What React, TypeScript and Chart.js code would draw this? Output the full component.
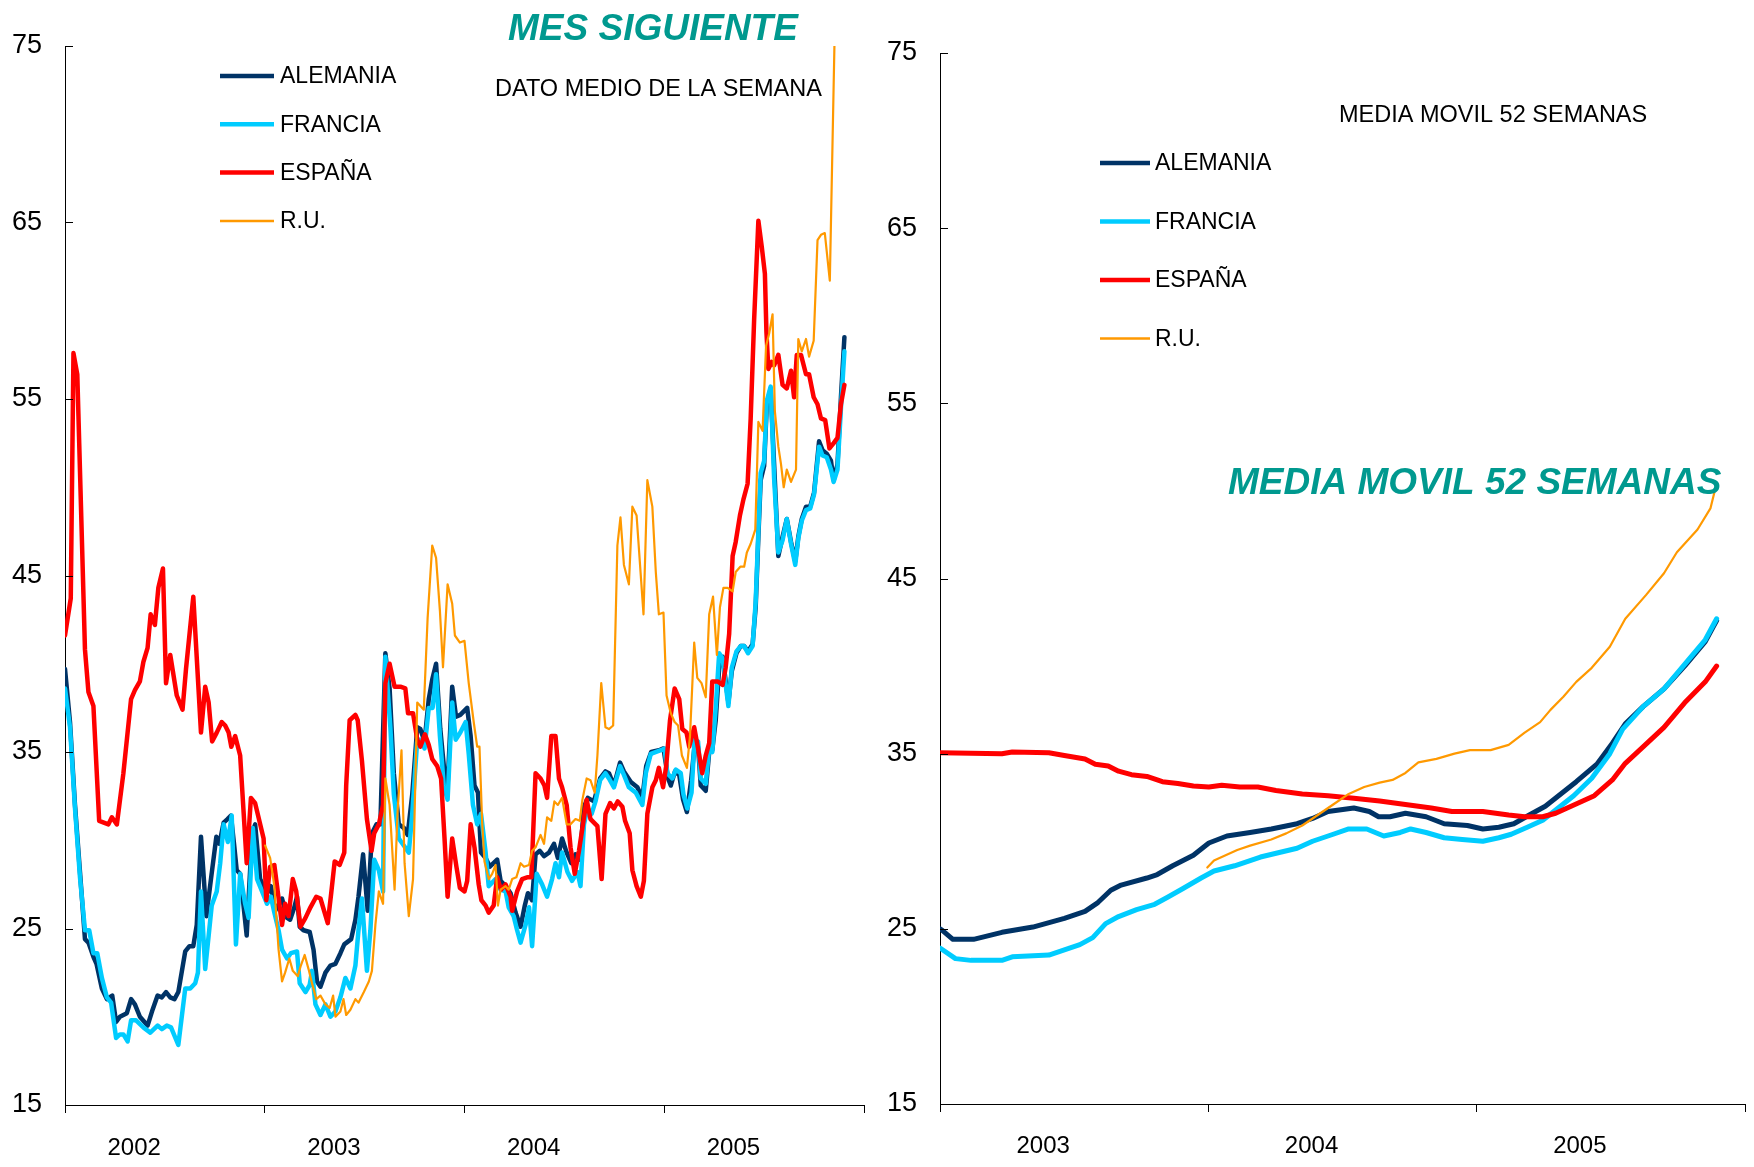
import React, { useEffect, useRef } from 'react';
import { Chart, registerables } from 'chart.js';

Chart.register(...registerables);

type Pt = [number, number];

const FONT = '"Liberation Sans", Arial, Helvetica, sans-serif';

const seriesNames = ['ALEMANIA', 'FRANCIA', 'ESPAÑA', 'R.U.'];
const seriesColors = ['#003366', '#00CCFF', '#FF0000', '#FF9900'];

const leftYears = ['2002', '2003', '2004', '2005'];
const rightYears = ['2003', '2004', '2005'];

const leftTitle = 'MES SIGUIENTE';
const leftSubtitle = 'DATO MEDIO DE LA SEMANA';
const rightTitle = 'MEDIA MOVIL 52 SEMANAS';
const rightSubtitle = 'MEDIA MOVIL 52 SEMANAS';

// Weekly values (x = weeks since start of 2002)
const weeklyAlemania: Pt[] = [
  [0,39.7],[1.3,36.7],[2.6,32.0],[3.9,28.2],[5.2,24.4],[6.1,24.2],[7.4,23.4],[8.2,23.0],[9.6,21.6],[10.9,21.0],[12.3,21.2],[13.3,19.7],[14.3,20.0],[16.1,20.2],[17.2,21.0],[18.2,20.7],[19.5,20.0],[21.5,19.5],[22.8,20.4],[24.1,21.2],[25.2,21.1],[26.3,21.4],[27.4,21.1],[28.5,21.0],[29.5,21.4],[31.3,23.7],[32.4,24.0],[33.4,24.0],[34.3,25.2],[35.4,30.2],[36.8,25.7],[38.0,27.8],[39.4,30.2],[40.2,29.8],[41.3,31.0],[42.3,31.2],[43.2,31.4],[44.0,29.8],[44.7,28.3],[45.6,28.1],[47.3,24.6],[48.7,30.4],[49.5,30.9],[50.8,27.8],[52.6,27.0],[53.6,27.4],[54.7,26.0],[56.5,26.7],[57.8,25.6],[58.6,25.5],[59.7,26.2],[60.4,26.8],[61.1,25.1],[62.1,24.9],[63.7,24.8],[64.7,23.8],[65.6,22.0],[66.5,21.7],[67.8,22.5],[69.1,22.9],[70.4,23.0],[71.7,23.6],[72.7,24.1],[74.5,24.4],[75.6,25.5],[76.4,26.8],[77.6,29.2],[78.8,26.0],[79.9,30.4],[81.1,30.9],[82.1,30.9],[83.4,40.6],[84.5,38.6],[85.6,33.8],[86.9,30.9],[88.2,30.7],[89.2,30.3],[90.4,32.6],[91.7,36.4],[92.5,36.3],[93.6,35.6],[94.7,38.0],[95.6,39.1],[96.6,40.0],[97.7,36.3],[98.8,33.8],[99.6,33.1],[100.8,38.7],[101.8,37.0],[102.9,37.1],[104.7,37.5],[105.6,35.9],[106.6,33.1],[107.5,32.7],[108.3,29.3],[109.5,29.0],[110.6,28.5],[112.5,28.9],[113.4,27.7],[114.7,27.4],[116.0,27.0],[117.3,25.9],[118.6,25.1],[119.7,26.3],[120.5,27.0],[121.6,26.6],[122.5,29.2],[123.6,29.4],[124.7,29.1],[126.0,29.3],[127.3,29.8],[128.3,29.0],[129.4,30.1],[130.6,29.3],[131.8,28.7],[132.9,29.2],[134.0,28.9],[135.1,31.9],[136.1,32.4],[137.7,32.2],[139.3,33.5],[140.7,33.9],[141.6,33.8],[142.9,33.1],[144.5,34.4],[145.5,33.9],[147.3,33.3],[149.0,33.0],[150.3,32.4],[151.3,34.2],[152.6,35.0],[154.6,35.1],[155.8,35.2],[157.0,33.5],[157.7,33.1],[158.8,33.9],[159.9,33.7],[160.9,32.3],[161.9,31.6],[163.0,33.4],[164.0,35.6],[164.8,35.3],[165.5,33.1],[166.8,32.8],[167.7,35.0],[168.5,35.1],[169.4,36.8],[170.3,39.8],[171.2,40.4],[172.0,39.0],[172.7,37.8],[173.6,39.6],[174.8,40.6],[175.9,41.0],[176.8,41.0],[177.8,40.7],[179.0,41.1],[179.8,43.2],[180.5,47.2],[181.1,50.4],[182.0,51.2],[182.7,54.7],[183.7,55.6],[184.6,51.3],[185.7,46.1],[186.8,47.2],[187.9,48.2],[189.0,46.9],[190.1,45.8],[190.9,47.2],[191.8,48.2],[192.9,48.9],[194.0,48.9],[195.0,49.7],[196.3,52.6],[197.2,52.1],[198.3,51.9],[199.4,51.5],[200.1,50.4],[201.1,51.3],[202.0,55.1],[202.9,58.5]
];

const weeklyFrancia: Pt[] = [
  [0,38.6],[1.3,36.4],[2.6,31.8],[3.9,27.9],[5.2,24.9],[6.3,24.9],[7.4,23.6],[8.4,23.6],[9.6,22.2],[10.9,21.1],[12.0,20.8],[13.3,18.8],[14.3,19.0],[15.2,19.0],[16.3,18.6],[17.2,19.8],[18.5,19.8],[20.4,19.4],[22.2,19.1],[24.1,19.5],[25.2,19.3],[26.5,19.5],[27.6,19.4],[29.5,18.4],[31.3,21.6],[32.6,21.6],[33.9,21.9],[34.6,22.5],[35.4,27.1],[36.5,22.7],[37.4,24.6],[38.2,26.3],[39.5,27.1],[40.4,28.7],[41.3,30.9],[42.4,29.9],[43.4,31.4],[44.5,24.1],[45.6,28.1],[46.9,26.4],[47.8,25.6],[48.9,30.7],[50.0,27.8],[51.3,27.1],[52.6,26.4],[53.6,26.8],[54.5,25.9],[55.6,24.9],[56.5,23.8],[57.8,23.3],[58.8,23.6],[60.4,23.7],[61.1,21.9],[62.6,21.4],[63.7,21.8],[64.3,22.6],[65.2,20.7],[66.5,20.1],[67.8,20.7],[69.1,20.0],[70.4,20.3],[71.7,21.1],[73.0,22.2],[74.3,21.6],[75.6,22.9],[76.4,24.9],[77.3,26.7],[78.6,22.6],[79.5,24.9],[80.5,28.9],[81.7,28.3],[82.8,27.1],[83.4,40.4],[84.7,36.4],[85.6,32.6],[86.9,30.1],[88.2,29.7],[89.5,29.3],[90.4,31.5],[91.7,35.7],[92.5,35.7],[93.6,35.2],[94.7,37.5],[95.7,37.5],[96.6,39.4],[97.6,35.9],[98.6,33.1],[99.6,32.3],[100.8,37.8],[101.7,35.7],[102.9,36.1],[104.3,36.7],[105.1,34.9],[106.2,32.0],[107.3,30.9],[108.3,31.5],[109.5,29.3],[110.3,27.4],[112.1,27.8],[113.4,27.2],[114.7,27.1],[115.5,26.2],[116.8,25.7],[117.7,24.9],[118.6,24.2],[119.9,25.2],[120.8,26.2],[121.6,24.0],[122.8,28.1],[124.2,27.5],[125.5,26.8],[126.8,27.8],[127.7,28.7],[128.6,27.9],[129.4,29.3],[130.8,28.2],[132.0,27.7],[133.4,28.2],[134.2,27.4],[135.1,30.9],[136.0,31.8],[137.1,31.5],[138.1,32.2],[139.3,33.4],[140.7,33.8],[141.6,33.5],[142.9,33.0],[144.5,34.2],[145.5,33.7],[146.8,33.0],[148.6,32.7],[150.3,32.0],[151.2,33.8],[152.5,34.9],[155.1,35.1],[156.1,35.2],[156.8,33.8],[158.1,33.5],[159.0,34.0],[160.3,33.8],[161.0,32.6],[162.0,31.8],[163.1,32.7],[163.9,35.7],[164.8,35.6],[165.5,33.5],[166.8,33.2],[167.7,35.2],[168.5,35.0],[169.4,37.5],[170.3,40.6],[171.2,40.3],[172.0,38.8],[172.7,37.6],[173.6,39.8],[174.8,40.7],[175.9,41.0],[176.8,41.0],[177.8,40.6],[179.0,41.0],[179.8,43.5],[180.5,47.5],[181.1,50.8],[182.0,51.5],[182.7,54.9],[183.7,55.7],[184.6,50.5],[185.7,46.3],[186.8,47.0],[187.9,48.2],[189.0,46.8],[190.1,45.6],[190.9,47.1],[191.8,48.1],[192.9,48.7],[194.0,48.8],[195.0,49.6],[196.3,52.3],[197.2,51.8],[198.3,51.7],[199.4,51.0],[200.1,50.3],[201.1,51.0],[202.0,54.5],[202.9,57.7]
];

const weeklyEspana: Pt[] = [
  [0,41.6],[1.5,43.7],[2.2,57.6],[3.2,56.4],[5.2,40.8],[6.1,38.4],[7.4,37.6],[8.9,31.1],[11.3,30.9],[12.2,31.3],[13.5,30.9],[15.2,33.8],[17.2,38.0],[18.2,38.5],[19.5,39.0],[20.4,40.1],[21.5,40.9],[22.3,42.8],[23.4,42.2],[24.3,44.3],[25.5,45.4],[26.3,38.9],[27.4,40.5],[29.1,38.2],[30.6,37.4],[31.5,39.7],[33.4,43.8],[35.4,36.1],[36.5,38.7],[37.4,37.8],[38.3,35.6],[39.5,36.1],[40.8,36.7],[41.7,36.5],[42.6,36.1],[43.3,35.3],[44.3,35.9],[45.6,34.8],[47.3,28.7],[48.4,32.4],[49.5,32.1],[51.7,30.1],[52.4,26.6],[53.4,28.5],[54.5,28.6],[56.5,25.2],[57.3,26.4],[58.2,25.7],[59.3,27.8],[60.2,27.1],[61.3,25.1],[62.6,25.6],[63.9,26.2],[65.4,26.8],[66.5,26.7],[68.4,25.3],[69.3,27.0],[70.2,28.8],[71.5,28.6],[72.7,29.3],[73.2,33.1],[74.1,36.8],[75.6,37.1],[76.2,36.8],[77.3,34.5],[78.6,31.2],[79.8,29.4],[80.5,30.4],[81.7,30.9],[82.8,32.0],[83.4,38.9],[84.5,40.0],[85.8,38.7],[87.3,38.7],[88.6,38.6],[89.3,37.2],[90.6,37.2],[91.7,35.7],[92.5,35.3],[93.7,36.0],[94.7,35.4],[95.6,34.6],[96.9,34.2],[97.9,33.5],[98.8,30.1],[99.6,26.8],[100.8,30.1],[101.9,28.5],[102.8,27.3],[104.0,27.1],[104.7,27.7],[105.6,30.9],[106.6,29.6],[107.7,27.5],[108.4,26.6],[109.5,26.3],[110.3,25.9],[111.6,26.3],[112.5,27.9],[113.5,27.2],[114.7,27.5],[116.0,26.8],[116.4,26.0],[117.7,27.1],[119.0,27.8],[120.3,27.9],[121.4,27.9],[122.5,33.8],[123.8,33.5],[124.8,33.1],[125.5,32.4],[126.6,35.9],[127.7,35.9],[128.6,33.5],[129.4,33.0],[130.6,32.0],[131.6,29.6],[132.7,28.1],[133.8,29.4],[134.7,30.7],[135.8,32.3],[136.8,31.2],[138.6,30.8],[139.7,27.8],[140.7,31.5],[141.9,32.1],[142.9,31.8],[143.9,32.2],[145.1,31.9],[145.8,31.1],[147.0,30.4],[147.7,28.3],[148.8,27.4],[149.9,26.8],[150.7,27.7],[151.6,31.5],[152.9,33.0],[153.8,33.4],[154.6,34.1],[155.7,33.0],[156.5,34.2],[157.5,36.8],[158.7,38.6],[159.9,38.0],[160.7,36.3],[161.8,36.1],[162.5,35.3],[163.8,36.4],[164.8,35.2],[165.9,33.8],[166.8,34.8],[167.7,35.5],[168.5,39.0],[169.9,39.0],[171.2,38.8],[172.0,39.8],[172.9,41.7],[173.8,46.1],[174.6,46.9],[175.7,48.4],[176.6,49.3],[177.7,50.2],[178.5,53.9],[179.4,59.5],[180.5,65.1],[181.4,63.6],[182.2,62.1],[182.6,58.8],[183.1,56.7],[184.0,57.1],[184.6,56.9],[185.7,57.5],[186.8,55.8],[187.9,55.6],[189.0,56.6],[189.8,55.1],[190.5,57.5],[191.6,57.5],[192.9,56.4],[193.7,56.4],[194.9,55.1],[195.9,54.7],[196.8,53.9],[197.9,53.8],[199.0,52.2],[200.1,52.5],[201.1,52.8],[202.0,54.7],[202.9,55.8]
];

const weeklyRU: Pt[] = [
  [52.1,29.7],[53.4,29.0],[54.5,27.4],[55.6,23.8],[56.5,22.0],[57.3,22.5],[58.4,23.3],[59.3,22.6],[60.6,22.3],[61.4,22.9],[62.4,23.5],[63.4,22.7],[64.3,21.9],[65.4,21.0],[66.5,21.2],[67.8,20.7],[68.9,20.5],[69.8,21.2],[70.4,20.0],[71.7,20.3],[72.5,21.0],[73.2,20.1],[74.3,20.4],[75.6,21.0],[76.4,20.8],[77.8,21.4],[79.1,22.0],[79.9,22.6],[80.8,25.2],[81.7,27.1],[82.8,26.4],[83.4,33.5],[84.5,32.0],[85.8,27.2],[86.6,31.7],[87.6,35.1],[88.4,28.7],[89.5,25.7],[90.6,27.8],[91.7,37.8],[93.4,37.4],[94.4,42.6],[95.6,46.7],[96.6,46.0],[97.6,43.0],[98.4,39.8],[99.6,44.5],[100.8,43.4],[101.5,41.6],[102.8,41.2],[104.0,41.3],[105.1,38.9],[106.4,36.7],[107.3,35.3],[107.9,35.3],[108.6,31.0],[109.2,28.8],[110.3,27.8],[111.2,28.1],[112.1,28.6],[112.7,26.3],[113.4,27.2],[114.7,27.4],[115.5,27.2],[116.4,27.8],[117.5,27.9],[118.6,28.7],[119.5,28.5],[120.8,28.6],[121.6,29.4],[122.5,29.6],[123.8,30.3],[124.7,29.8],[125.5,31.3],[126.6,31.1],[127.4,32.2],[128.3,32.0],[129.4,32.4],[130.6,30.9],[131.6,30.9],[132.9,31.2],[134.0,31.1],[134.7,32.3],[135.8,33.5],[136.8,33.4],[137.9,32.7],[138.6,34.8],[139.6,38.9],[140.7,36.4],[141.6,36.3],[142.7,36.5],[143.8,46.7],[144.6,48.3],[145.5,45.6],[146.8,44.5],[147.7,48.9],[148.8,48.4],[150.6,42.8],[151.6,50.4],[152.9,48.9],[153.8,45.2],[154.6,42.8],[155.8,42.9],[156.6,38.2],[157.7,37.2],[158.7,36.7],[159.6,36.5],[160.6,34.8],[161.9,34.1],[162.7,35.9],[163.8,41.2],[164.6,39.2],[165.7,38.9],[166.8,38.1],[167.7,42.8],[168.7,43.8],[169.7,40.5],[170.5,43.2],[171.4,44.3],[172.5,44.3],[173.8,44.1],[174.6,45.2],[175.8,45.5],[176.8,45.5],[177.5,46.3],[178.5,46.8],[179.7,47.6],[180.5,53.7],[181.6,53.2],[182.5,58.0],[183.3,58.7],[184.2,59.8],[184.8,54.3],[185.7,52.3],[186.4,51.3],[187.1,50.0],[187.9,51.0],[189.0,50.3],[190.3,51.0],[190.9,58.4],[191.8,57.7],[192.9,58.4],[193.7,57.4],[194.9,58.3],[195.9,64.0],[196.8,64.3],[197.8,64.4],[199.1,61.7],[200.3,75.0]
];

// 52-week moving averages (x = weeks since start of 2003)
const movingAlemania: Pt[] = [
  [0,25.0],[0.5,24.9],[2.5,24.4],[6.5,24.4],[12,24.8],[18,25.1],[24.1,25.6],[28.1,26.0],[30.6,26.5],[33.1,27.2],[35.1,27.5],[40.1,27.9],[42.1,28.1],[45.1,28.6],[49.1,29.2],[52.1,29.9],[55.6,30.3],[60.1,30.5],[64.2,30.7],[69.2,31.0],[72.2,31.3],[75.2,31.7],[80.2,31.9],[83.2,31.7],[85.0,31.4],[87.2,31.4],[90.2,31.6],[94.2,31.4],[97.7,31.0],[102.2,30.9],[105.2,30.7],[108.3,30.8],[111.2,31.0],[114.2,31.5],[117.3,32.0],[120.3,32.7],[123.3,33.4],[127.3,34.4],[130.3,35.6],[132.8,36.7],[136.3,37.7],[140.3,38.7],[144.3,40.0],[148.3,41.4],[150.5,42.6]
];
const movingFrancia: Pt[] = [
  [0,23.9],[3.0,23.3],[6.0,23.2],[12.0,23.2],[14.0,23.4],[21.1,23.5],[24.1,23.8],[27.1,24.1],[29.6,24.5],[32.1,25.3],[34.6,25.7],[38.1,26.1],[41.6,26.4],[44.1,26.8],[47.1,27.3],[50.6,27.9],[53.1,28.3],[57.1,28.6],[62.1,29.1],[69.2,29.6],[72.2,30.0],[76.2,30.4],[79.2,30.7],[82.7,30.7],[86.0,30.3],[89.2,30.5],[91.2,30.7],[94.2,30.5],[97.7,30.2],[101.2,30.1],[105.2,30.0],[108.3,30.2],[110.7,30.4],[113.8,30.8],[116.8,31.2],[119.8,31.9],[122.8,32.6],[126.3,33.6],[129.8,35.0],[132.3,36.4],[136.3,37.7],[140.3,38.7],[144.3,40.1],[148.3,41.5],[150.5,42.7]
];
const movingEspana: Pt[] = [
  [0,35.05],[12,35.0],[14,35.1],[21.1,35.05],[24.1,34.9],[28.1,34.7],[30.1,34.4],[32.6,34.3],[34.6,34.0],[37.1,33.8],[40.1,33.7],[43.1,33.4],[46.1,33.3],[49.1,33.15],[52.1,33.1],[54.6,33.2],[58.1,33.1],[61.6,33.1],[65.1,32.9],[70.2,32.7],[75.2,32.6],[80.2,32.45],[85.2,32.3],[90.2,32.1],[95.2,31.9],[99.2,31.7],[105.2,31.7],[110.2,31.5],[113.3,31.4],[116.8,31.4],[119.3,31.6],[122.3,32.0],[126.8,32.6],[130.3,33.5],[132.8,34.45],[136.3,35.4],[140.3,36.5],[144.3,37.9],[148.3,39.1],[150.5,40.0]
];
const movingRU: Pt[] = [
  [51.8,28.5],[53.1,28.9],[54.6,29.1],[57.6,29.5],[60.1,29.75],[64.2,30.1],[67.1,30.45],[70.2,30.9],[73.2,31.5],[76.2,32.1],[79.2,32.7],[82.2,33.1],[85.2,33.35],[87.7,33.5],[90.2,33.9],[92.7,34.5],[96.2,34.7],[99.7,35.0],[102.7,35.2],[106.7,35.2],[110.2,35.5],[113.3,36.2],[116.3,36.8],[118.3,37.5],[120.8,38.25],[123.3,39.1],[126.3,39.9],[129.8,41.1],[132.8,42.7],[136.8,44.05],[140.3,45.3],[142.8,46.5],[146.8,47.8],[149.3,49.0],[150.3,50.2]
];

interface Spec {
  series: Pt[][];
  widths: number[];
  xMax: number;
  years: string[];
  yearOffset: number;
  yearY: number;
  axisWidth: number;
  axisHeight: number;
  padTop: number;
  padRight: number;
  legendX0: number;
  legendX1: number;
  legendTextX: number;
  legendY0: number;
  legendDy: number;
  title: { text: string; x: number; y: number };
  subtitle: { text: string; x: number; y: number };
}

function makeOverlay(spec: Spec) {
  return {
    id: 'overlayTexts',
    afterDraw(chart: any) {
      const ctx = chart.ctx as CanvasRenderingContext2D;
      const area = chart.chartArea;
      const xs = chart.scales.x;
      const ys = chart.scales.y;
      ctx.save();
      // inside tick marks on the value axis
      ctx.strokeStyle = '#000';
      ctx.lineWidth = 1;
      ys.ticks.forEach((t: any) => {
        const py = Math.round(ys.getPixelForValue(t.value)) + 0.5;
        ctx.beginPath();
        ctx.moveTo(area.left, py);
        ctx.lineTo(area.left + 8, py);
        ctx.stroke();
      });
      // year labels
      ctx.fillStyle = '#000';
      ctx.font = `24px ${FONT}`;
      ctx.textAlign = 'center';
      ctx.textBaseline = 'middle';
      spec.years.forEach((yr, i) => {
        ctx.fillText(yr, xs.getPixelForValue(i * 52 + spec.yearOffset), spec.yearY);
      });
      // legend
      ctx.textAlign = 'left';
      seriesNames.forEach((name, i) => {
        const y = spec.legendY0 + i * spec.legendDy;
        ctx.strokeStyle = seriesColors[i];
        ctx.lineWidth = i === 3 ? 2.5 : 4.5;
        ctx.lineCap = 'butt';
        ctx.beginPath();
        ctx.moveTo(spec.legendX0, y);
        ctx.lineTo(spec.legendX1, y);
        ctx.stroke();
        ctx.fillStyle = '#000';
        ctx.font = `23px ${FONT}`;
        ctx.textBaseline = 'middle';
        ctx.fillText(name, spec.legendTextX, y + 1);
      });
      // titles
      ctx.textBaseline = 'alphabetic';
      ctx.fillStyle = '#00998F';
      ctx.font = `italic bold 37px ${FONT}`;
      ctx.fillText(spec.title.text, spec.title.x, spec.title.y);
      ctx.fillStyle = '#000';
      ctx.font = `23.5px ${FONT}`;
      ctx.fillText(spec.subtitle.text, spec.subtitle.x, spec.subtitle.y);
      ctx.restore();
    },
  };
}

function makeChart(canvas: HTMLCanvasElement, spec: Spec) {
  return new Chart(canvas, {
    type: 'line',
    data: {
      datasets: spec.series.map((pts, i) => ({
        label: seriesNames[i],
        data: pts.map(([x, y]) => ({ x, y })),
        borderColor: seriesColors[i],
        backgroundColor: seriesColors[i],
        borderWidth: spec.widths[i],
        pointRadius: 0,
        tension: 0,
        fill: false,
        borderJoinStyle: 'round',
        borderCapStyle: 'round',
        order: 4 - i,
      })),
    },
    options: {
      responsive: false,
      animation: false,
      events: [],
      layout: { padding: { top: spec.padTop, right: spec.padRight, left: 0, bottom: 0 } },
      plugins: { legend: { display: false }, tooltip: { enabled: false } },
      scales: {
        x: {
          type: 'linear',
          min: 0,
          max: spec.xMax,
          ticks: { display: false, stepSize: 52 },
          grid: { display: true, drawOnChartArea: false, drawTicks: true, tickLength: 8, color: '#000', lineWidth: 1 },
          border: { display: true, color: '#000', width: 1 },
          afterFit: (s: any) => { s.height = spec.axisHeight; },
        },
        y: {
          type: 'linear',
          min: 15,
          max: 75,
          ticks: { stepSize: 10, padding: 23, color: '#000', font: { size: 27, family: FONT } },
          grid: { display: false, drawTicks: false },
          border: { display: true, color: '#000', width: 1 },
          afterFit: (s: any) => { s.width = spec.axisWidth; },
        },
      },
    } as any,
    plugins: [makeOverlay(spec)],
  });
}

const leftSpec: Spec = {
  series: [weeklyAlemania, weeklyFrancia, weeklyEspana, weeklyRU],
  widths: [4.5, 4.5, 4.5, 2.2],
  xMax: 208,
  years: leftYears,
  yearOffset: 18,
  yearY: 1148,
  axisWidth: 65,
  axisHeight: 62,
  padTop: 46,
  padRight: 16,
  legendX0: 220,
  legendX1: 274,
  legendTextX: 280,
  legendY0: 76,
  legendDy: 48.3,
  title: { text: leftTitle, x: 508, y: 40 },
  subtitle: { text: leftSubtitle, x: 495, y: 96 },
};

const rightSpec: Spec = {
  series: [movingAlemania, movingFrancia, movingEspana, movingRU],
  widths: [5, 5, 5, 2.2],
  xMax: 156,
  years: rightYears,
  yearOffset: 20,
  yearY: 1146,
  axisWidth: 60,
  axisHeight: 63,
  padTop: 53,
  padRight: 9,
  legendX0: 220,
  legendX1: 270,
  legendTextX: 275,
  legendY0: 163,
  legendDy: 58.5,
  title: { text: rightTitle, x: 348, y: 494 },
  subtitle: { text: rightSubtitle, x: 459, y: 122 },
};

export default function App() {
  const leftRef = useRef<HTMLCanvasElement>(null);
  const rightRef = useRef<HTMLCanvasElement>(null);

  useEffect(() => {
    const charts: Chart[] = [];
    if (leftRef.current) charts.push(makeChart(leftRef.current, leftSpec));
    if (rightRef.current) charts.push(makeChart(rightRef.current, rightSpec));
    return () => charts.forEach((c) => c.destroy());
  }, []);

  return (
    <div style={{ position: 'absolute', left: 0, top: 0, width: 1754, height: 1167, background: '#fff' }}>
      <canvas ref={leftRef} width={880} height={1167} style={{ position: 'absolute', left: 0, top: 0, width: 880, height: 1167 }} />
      <canvas ref={rightRef} width={874} height={1167} style={{ position: 'absolute', left: 880, top: 0, width: 874, height: 1167 }} />
    </div>
  );
}
